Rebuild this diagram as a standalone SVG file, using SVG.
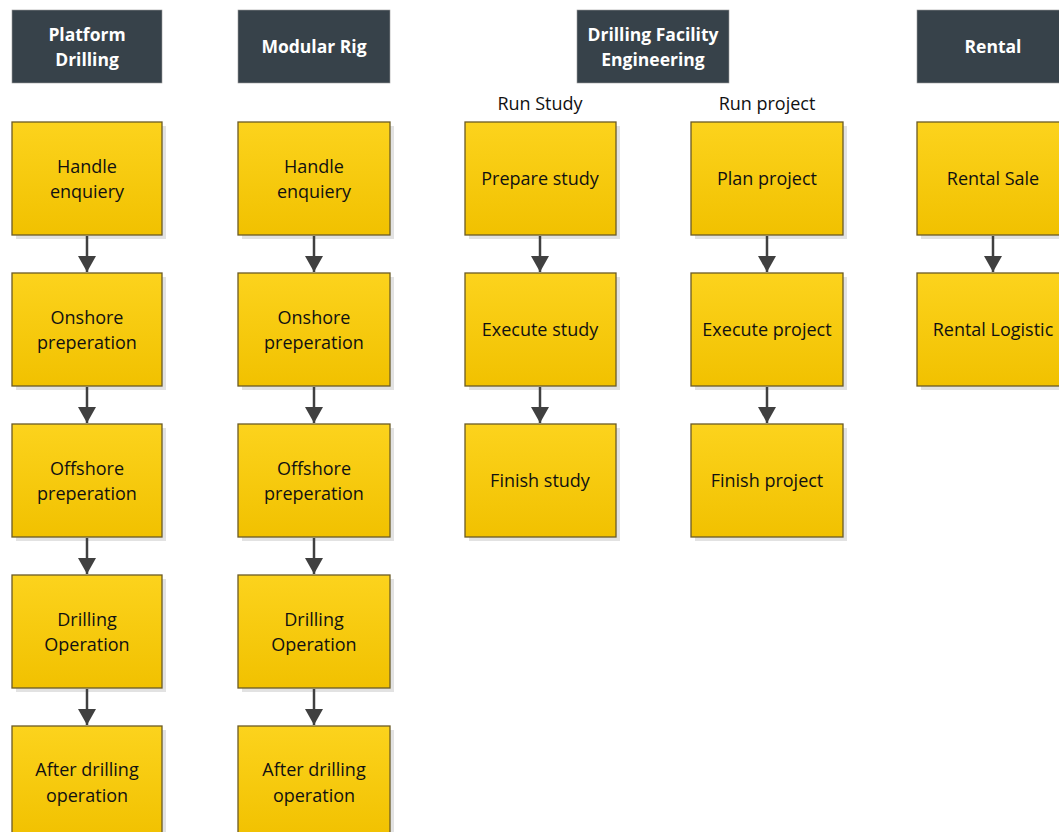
<svg xmlns="http://www.w3.org/2000/svg" width="1059" height="832" viewBox="0 0 1059 832">
  <defs>
    <linearGradient id="gold" x1="0" y1="0" x2="0" y2="1">
      <stop offset="0" stop-color="#FCD31D"/>
      <stop offset="1" stop-color="#F1C100"/>
    </linearGradient>
    <marker id="arrow" viewBox="0 0 16 18" refX="16" refY="9" markerWidth="16" markerHeight="18" markerUnits="userSpaceOnUse" orient="auto">
      <path d="M0,0 L16,9 L0,18 Z" fill="#404040"/>
    </marker>
    <style>
      .hdr { fill: #37424A; stroke: #9a9a9a; stroke-width: 0.6; }
      .hdr-t { font-family: "Open Sans", "Liberation Sans", sans-serif; font-weight: bold; font-size: 17.5px; fill: #ffffff; text-anchor: middle; }
      .shadow { fill: #e2e2e2; }
      .box { fill: url(#gold); stroke: #6B5B25; stroke-width: 1.3; }
      .box-t { font-family: "Open Sans", "Liberation Sans", sans-serif; font-size: 18px; fill: #111111; text-anchor: middle; }
      .lane-t { font-family: "Open Sans", "Liberation Sans", sans-serif; font-size: 18px; fill: #111111; text-anchor: middle; }
      .conn { stroke: #404040; stroke-width: 2.5; fill: none; marker-end: url(#arrow); }
    </style>
  </defs>

  <rect width="1059" height="832" fill="#ffffff"/>

  <!-- Column headers -->
  <g id="hdr-platform">
    <rect class="hdr" x="12" y="10" width="150" height="73"/>
    <text class="hdr-t" x="87" y="41">Platform</text>
    <text class="hdr-t" x="87" y="66">Drilling</text>
  </g>
  <g id="hdr-modular">
    <rect class="hdr" x="238" y="10" width="152" height="73"/>
    <text class="hdr-t" x="314" y="53">Modular Rig</text>
  </g>
  <g id="hdr-dfe">
    <rect class="hdr" x="577" y="10" width="152" height="73"/>
    <text class="hdr-t" x="653" y="41">Drilling Facility</text>
    <text class="hdr-t" x="653" y="66">Engineering</text>
  </g>
  <g id="hdr-rental">
    <rect class="hdr" x="917" y="10" width="152" height="73"/>
    <text class="hdr-t" x="993" y="53">Rental</text>
  </g>

  <!-- Lane captions -->
  <g id="lbl-run-study"><text class="lane-t" x="540" y="110">Run Study</text></g>
  <g id="lbl-run-project"><text class="lane-t" x="767" y="110">Run project</text></g>

  <!-- Platform Drilling column -->
  <g id="pd-1">
    <rect class="shadow" x="16" y="126" width="150" height="113"/>
    <rect class="box" x="12" y="122" width="150" height="113"/>
    <text class="box-t" x="87" y="173">Handle</text>
    <text class="box-t" x="87" y="198">enquiery</text>
  </g>
  <g id="pd-2">
    <rect class="shadow" x="16" y="277" width="150" height="113"/>
    <rect class="box" x="12" y="273" width="150" height="113"/>
    <text class="box-t" x="87" y="324">Onshore</text>
    <text class="box-t" x="87" y="349">preperation</text>
  </g>
  <g id="pd-3">
    <rect class="shadow" x="16" y="428" width="150" height="113"/>
    <rect class="box" x="12" y="424" width="150" height="113"/>
    <text class="box-t" x="87" y="475">Offshore</text>
    <text class="box-t" x="87" y="500">preperation</text>
  </g>
  <g id="pd-4">
    <rect class="shadow" x="16" y="579" width="150" height="113"/>
    <rect class="box" x="12" y="575" width="150" height="113"/>
    <text class="box-t" x="87" y="626">Drilling</text>
    <text class="box-t" x="87" y="651">Operation</text>
  </g>
  <g id="pd-5">
    <rect class="shadow" x="16" y="730" width="150" height="113"/>
    <rect class="box" x="12" y="726" width="150" height="113"/>
    <text class="box-t" x="87" y="776">After drilling</text>
    <text class="box-t" x="87" y="802">operation</text>
  </g>

  <!-- Modular Rig column -->
  <g id="mr-1">
    <rect class="shadow" x="242" y="126" width="152" height="113"/>
    <rect class="box" x="238" y="122" width="152" height="113"/>
    <text class="box-t" x="314" y="173">Handle</text>
    <text class="box-t" x="314" y="198">enquiery</text>
  </g>
  <g id="mr-2">
    <rect class="shadow" x="242" y="277" width="152" height="113"/>
    <rect class="box" x="238" y="273" width="152" height="113"/>
    <text class="box-t" x="314" y="324">Onshore</text>
    <text class="box-t" x="314" y="349">preperation</text>
  </g>
  <g id="mr-3">
    <rect class="shadow" x="242" y="428" width="152" height="113"/>
    <rect class="box" x="238" y="424" width="152" height="113"/>
    <text class="box-t" x="314" y="475">Offshore</text>
    <text class="box-t" x="314" y="500">preperation</text>
  </g>
  <g id="mr-4">
    <rect class="shadow" x="242" y="579" width="152" height="113"/>
    <rect class="box" x="238" y="575" width="152" height="113"/>
    <text class="box-t" x="314" y="626">Drilling</text>
    <text class="box-t" x="314" y="651">Operation</text>
  </g>
  <g id="mr-5">
    <rect class="shadow" x="242" y="730" width="152" height="113"/>
    <rect class="box" x="238" y="726" width="152" height="113"/>
    <text class="box-t" x="314" y="776">After drilling</text>
    <text class="box-t" x="314" y="802">operation</text>
  </g>

  <!-- Run Study lane -->
  <g id="rs-1">
    <rect class="shadow" x="469" y="126" width="151" height="113"/>
    <rect class="box" x="465" y="122" width="151" height="113"/>
    <text class="box-t" x="540" y="185">Prepare study</text>
  </g>
  <g id="rs-2">
    <rect class="shadow" x="469" y="277" width="151" height="113"/>
    <rect class="box" x="465" y="273" width="151" height="113"/>
    <text class="box-t" x="540" y="336">Execute study</text>
  </g>
  <g id="rs-3">
    <rect class="shadow" x="469" y="428" width="151" height="113"/>
    <rect class="box" x="465" y="424" width="151" height="113"/>
    <text class="box-t" x="540" y="487">Finish study</text>
  </g>

  <!-- Run project lane -->
  <g id="rp-1">
    <rect class="shadow" x="695" y="126" width="152" height="113"/>
    <rect class="box" x="691" y="122" width="152" height="113"/>
    <text class="box-t" x="767" y="185">Plan project</text>
  </g>
  <g id="rp-2">
    <rect class="shadow" x="695" y="277" width="152" height="113"/>
    <rect class="box" x="691" y="273" width="152" height="113"/>
    <text class="box-t" x="767" y="336">Execute project</text>
  </g>
  <g id="rp-3">
    <rect class="shadow" x="695" y="428" width="152" height="113"/>
    <rect class="box" x="691" y="424" width="152" height="113"/>
    <text class="box-t" x="767" y="487">Finish project</text>
  </g>

  <!-- Rental column -->
  <g id="rt-1">
    <rect class="shadow" x="921" y="126" width="152" height="113"/>
    <rect class="box" x="917" y="122" width="152" height="113"/>
    <text class="box-t" x="993" y="185">Rental Sale</text>
  </g>
  <g id="rt-2">
    <rect class="shadow" x="921" y="277" width="152" height="113"/>
    <rect class="box" x="917" y="273" width="152" height="113"/>
    <text class="box-t" x="993" y="336">Rental Logistic</text>
  </g>

  <!-- Connectors -->
  <g id="connectors">
    <line class="conn" x1="87" y1="236" x2="87" y2="272"/>
    <line class="conn" x1="87" y1="387" x2="87" y2="423"/>
    <line class="conn" x1="87" y1="538" x2="87" y2="574"/>
    <line class="conn" x1="87" y1="689" x2="87" y2="725"/>

    <line class="conn" x1="314" y1="236" x2="314" y2="272"/>
    <line class="conn" x1="314" y1="387" x2="314" y2="423"/>
    <line class="conn" x1="314" y1="538" x2="314" y2="574"/>
    <line class="conn" x1="314" y1="689" x2="314" y2="725"/>

    <line class="conn" x1="540" y1="236" x2="540" y2="272"/>
    <line class="conn" x1="540" y1="387" x2="540" y2="423"/>

    <line class="conn" x1="767" y1="236" x2="767" y2="272"/>
    <line class="conn" x1="767" y1="387" x2="767" y2="423"/>

    <line class="conn" x1="993" y1="236" x2="993" y2="272"/>
  </g>
</svg>
